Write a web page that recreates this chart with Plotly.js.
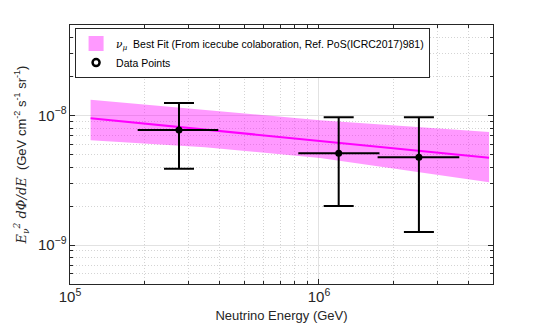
<!DOCTYPE html>
<html>
<head>
<meta charset="utf-8">
<script src="https://cdn.plot.ly/plotly-3.0.1.min.js"></script>
<style>
  html, body { margin: 0; padding: 0; background: #fff; }
  #plot { width: 545px; height: 327px; }
</style>
</head>
<body>
<div id="plot"></div>
<script>
// data points (GeV, GeV cm^-2 s^-1 sr^-1)
const energies = [2.74e5, 1.2e6, 2.52e6];
const eLow = [1.87e5, 8.26e5, 1.72e6];
const eHigh = [3.94e5, 1.75e6, 3.66e6];
const flux = [7.72e-9, 5.12e-9, 4.77e-9];
const fluxUp = [1.25e-8, 9.7e-9, 9.7e-9];
const fluxDown = [3.88e-9, 2.0e-9, 1.26e-9];

// best fit line and its band
const fitE = [1.21e5, 4.82e6];
const fitFlux = [9.53e-9, 4.72e-9];
const bandE = [1.21e5, 3.48e5, 1.01e6, 4.82e6];
const bandUp = [1.325e-8, 1.11e-8, 9.2e-9, 7.45e-9];
const bandDown = [6.44e-9, 5.69e-9, 4.69e-9, 3.05e-9];

const pink = "rgba(255,0,255,0.4)";
const axisCol = "#262626";

const band = {
  x: bandE.concat(bandE.slice().reverse()),
  y: bandUp.concat(bandDown.slice().reverse()),
  type: "scatter",
  mode: "lines",
  fill: "toself",
  fillcolor: pink,
  line: { width: 0 },
  showlegend: false,
  hoverinfo: "skip"
};

// square swatch for the band in the legend
const bandKey = {
  x: [null], y: [null],
  type: "bar",
  marker: { color: "#ff99ff", line: { color: "#ff99ff", width: 3 } },
  name: "<span style=\"font-family:'DejaVu Serif';font-style:italic\">ν<sub>μ</sub></span>  Best Fit (From icecube colaboration, Ref. PoS(ICRC2017)981)"
};

const fit = {
  x: fitE,
  y: fitFlux,
  type: "scatter",
  mode: "lines",
  line: { color: "#ff00ff", width: 2 },
  showlegend: false
};

const points = {
  x: energies,
  y: flux,
  type: "scatter",
  mode: "markers",
  marker: { color: "black", size: 7 },
  error_y: {
    type: "data", symmetric: false,
    array: fluxUp.map((v, i) => v - flux[i]),
    arrayminus: flux.map((v, i) => v - fluxDown[i]),
    color: "black", thickness: 2, width: 15
  },
  error_x: {
    type: "data", symmetric: false,
    array: eHigh.map((v, i) => v - energies[i]),
    arrayminus: energies.map((v, i) => v - eLow[i]),
    color: "black", thickness: 2, width: 0
  },
  showlegend: false
};

// legend entry only
const pointsKey = {
  x: [null], y: [null],
  type: "scatter",
  mode: "markers",
  marker: { symbol: "circle-open", color: "black", size: 7, line: { width: 2.5 } },
  name: "Data Points"
};

const axisCommon = {
  type: "log",
  dtick: 1,
  exponentformat: "power",
  showline: true,
  linecolor: axisCol,
  linewidth: 1,
  mirror: "ticks",
  ticks: "inside",
  ticklen: 5,
  tickcolor: axisCol,
  showgrid: true,
  gridcolor: "#e2e2e2",
  gridwidth: 1,
  zeroline: false,
  tickfont: { size: 12, color: axisCol },
  minor: {
    ticks: "inside", ticklen: 3, tickcolor: axisCol,
    showgrid: true, gridcolor: "#d4d4d4", griddash: "1px,2px", gridwidth: 1
  }
};

const layout = {
  width: 545,
  height: 327,
  margin: { l: 70, r: 52, t: 25, b: 43 },
  paper_bgcolor: "white",
  plot_bgcolor: "white",
  font: { family: "Liberation Sans, Arial, sans-serif", color: axisCol },
  showlegend: true,
  legend: {
    x: 0.012, y: 0.988, xanchor: "left", yanchor: "top",
    bgcolor: "white", bordercolor: axisCol, borderwidth: 1,
    font: { size: 10.5, color: "black" },
    tracegroupgap: 0
  },
  xaxis: Object.assign({}, axisCommon, {
    range: [5, Math.log10(5e6)],
    title: { text: "Neutrino Energy (GeV)", font: { size: 13 }, standoff: 6 }
  }),
  yaxis: Object.assign({}, axisCommon, {
    range: [Math.log10(5e-10), Math.log10(5e-8)],
    title: {
      text: "<span style=\"font-family:'DejaVu Serif';font-style:italic\">E<sub>ν</sub><sup>2</sup> dΦ/dE</span>  (GeV cm<sup>-2</sup> s<sup>-1</sup> sr<sup>-1</sup>)",
      font: { size: 13 },
      standoff: 8
    }
  })
};

Plotly.newPlot("plot", [band, fit, points, bandKey, pointsKey], layout, { displayModeBar: false, staticPlot: true });
</script>
</body>
</html>
